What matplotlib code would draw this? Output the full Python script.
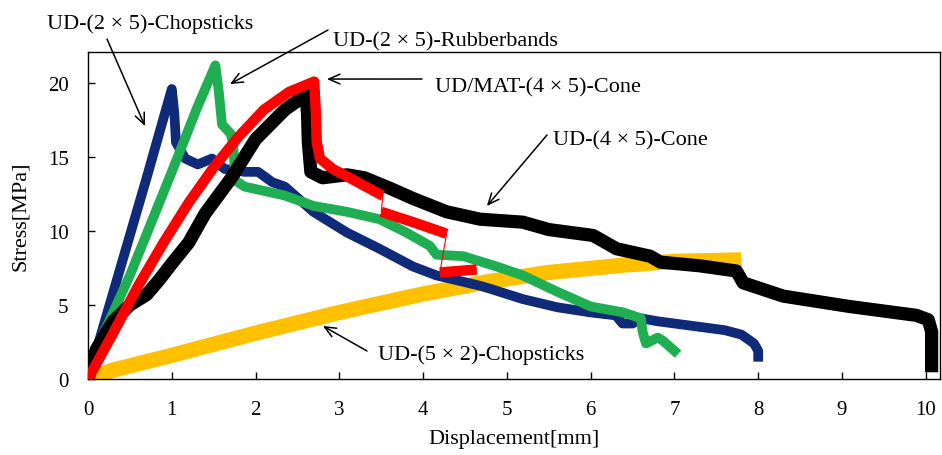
import matplotlib
matplotlib.use("Agg")
import matplotlib.pyplot as plt

plt.rcParams['font.family'] = ['Liberation Serif', 'DejaVu Serif']

# ---- data ----
yel_x = [0, 0.3, 1.0, 2.0, 3.0, 4.0, 4.8, 5.5, 6.4, 7.0, 7.8]
yel_y = [0, 0.6, 1.6, 3.1, 4.5, 5.75, 6.6, 7.2, 7.7, 7.95, 8.05]

navy_x = [0, 0.35, 0.7, 1.0, 1.03, 1.05, 1.16, 1.31, 1.48, 1.63, 1.87, 2.03, 2.2, 2.35,
          2.69, 3.09, 3.48, 3.88, 4.16, 4.68, 4.8, 5.19, 5.6, 6.0, 6.3, 6.38, 6.5, 6.6,
          6.8, 7.6, 7.8, 7.95, 8.0, 8.0]
navy_y = [0, 6.8, 13.6, 19.6, 18.0, 16.0, 14.9, 14.5, 14.9, 14.2, 14.0, 14.0, 13.3, 13.0,
          11.3, 9.9, 8.8, 7.6, 7.0, 6.3, 6.1, 5.4, 4.85, 4.5, 4.3, 3.75, 3.75, 4.1,
          3.9, 3.3, 3.0, 2.4, 1.9, 1.5]

green_x = [0, 0.1, 0.5, 1.0, 1.3, 1.52, 1.56, 1.6, 1.7, 1.73, 1.76, 1.87, 2.35, 2.69,
           3.09, 3.48, 3.8, 4.08, 4.16, 4.48, 4.88, 5.19, 5.6, 6.0, 6.39, 6.6, 6.62,
           6.66, 6.8, 6.86, 7.0]
green_y = [0, 2.0, 7.0, 14.0, 18.3, 21.2, 19.5, 17.2, 16.6, 16.0, 13.4, 13.0, 12.4, 11.7,
           11.3, 10.8, 9.9, 9.0, 8.4, 8.3, 7.6, 7.0, 5.9, 4.9, 4.5, 4.1, 3.2,
           2.4, 2.8, 2.6, 1.9]

black_x = [0, 0.1, 0.3, 0.5, 0.7, 0.85, 1.0, 1.2, 1.4, 1.7, 2.0, 2.35, 2.6, 2.62, 2.63,
           2.66, 2.8, 3.09, 3.3, 3.6, 3.88, 4.28, 4.68, 5.19, 5.5, 6.03, 6.31, 6.71, 6.83,
           7.3, 7.74, 7.82, 8.3, 9.09, 9.89, 10.03, 10.07, 10.07]
black_y = [0, 2.0, 3.9, 5.0, 5.7, 6.7, 7.8, 9.2, 11.2, 13.5, 16.2, 18.2, 19.2, 18.0, 16.0,
           14.0, 13.6, 13.8, 13.6, 12.9, 12.2, 11.3, 10.8, 10.6, 10.1, 9.7, 8.8, 8.3, 7.9,
           7.65, 7.3, 6.5, 5.6, 4.9, 4.3, 4.0, 3.2, 0.9]

red1_x = [0, 0.3, 0.6, 0.9, 1.2, 1.5, 1.8, 2.1, 2.4, 2.7, 2.72, 2.73, 2.77, 2.92, 3.09, 3.48, 3.52]
red1_y = [0, 3.1, 6.3, 9.2, 11.9, 14.3, 16.4, 18.2, 19.4, 20.1, 18.0, 16.0, 14.9, 14.2, 13.7, 12.5, 12.4]
red2_x = [3.5, 3.88, 4.24, 4.28]
red2_y = [11.3, 10.6, 9.9, 9.8]
red3_x = [4.2, 4.64]
red3_y = [7.2, 7.4]

labels = ["UD-(2 \u00d7 5)-Chopsticks", "UD-(2 \u00d7 5)-Rubberbands",
          "UD/MAT-(4 \u00d7 5)-Cone", "UD-(4 \u00d7 5)-Cone",
          "UD-(5 \u00d7 2)-Chopsticks"]
x_ticks = list(range(0, 11))
y_ticks = [0, 5, 10, 15, 20]

W, H = 942, 456
fig = plt.figure(figsize=(W / 100, H / 100), dpi=100)
ax = fig.add_axes([88 / W, 1 - 380 / H, (940 - 88) / W, (380 - 53) / H])

c_yel, c_navy, c_green, c_red = '#FFC000', '#0E2A78', '#1FAE52', '#FF0000'
ax.plot(yel_x, yel_y, color=c_yel, lw=11.0, solid_capstyle='butt', zorder=2)
ax.plot(navy_x, navy_y, color=c_navy, lw=7.0, solid_joinstyle='round', zorder=3)
ax.plot(green_x, green_y, color=c_green, lw=7.0, solid_joinstyle='round', zorder=4)
ax.plot(black_x, black_y, color='black', lw=9.5, solid_joinstyle='round', zorder=5)
ax.plot(red1_x + red2_x + red3_x, red1_y + red2_y + red3_y, color=c_red, lw=0.8, zorder=6)
for rx, ry in [(red1_x, red1_y), (red2_x, red2_y), (red3_x, red3_y)]:
    ax.plot(rx, ry, color=c_red, lw=7.5, solid_capstyle='butt', solid_joinstyle='round', zorder=6)

ax.set_xlim(0, 10.17)
ax.set_ylim(0, 22.1)
ax.set_xticks(x_ticks)
ax.set_yticks(y_ticks)
ax.tick_params(direction='in', length=5, width=1, labelsize=15, top=False, right=False)
ax.tick_params(axis='x', pad=15)
ax.tick_params(axis='y', pad=14)
for s in ax.spines.values():
    s.set_linewidth(1.0)
ax.set_xlabel("Displacement[mm]", fontsize=16, labelpad=7)
ax.set_ylabel("Stress[MPa]", fontsize=16, labelpad=13)


def px2data(px, py):
    return ((px - 88) / 83.8, (380 - py) / 14.8)


def fig_px(px, py):
    return (px, H - py)


arrows = [((107, 40), (145, 127)), ((328, 31), (230, 85)), ((422, 80), (327, 80)),
          ((547, 136), (487, 207)), ((367, 352), (323, 327))]
text_pos = [(47, 29), (333, 46), (435, 92), (553, 145), (378, 360)]

for (tail, tip), lab, tp in zip(arrows, labels, text_pos):
    ax.annotate('', xy=px2data(*tip), xycoords='data',
                xytext=fig_px(*tail), textcoords='figure pixels',
                arrowprops=dict(arrowstyle='->,head_length=0.8,head_width=0.35',
                                lw=1.1, color='black', shrinkA=0, shrinkB=0),
                annotation_clip=False, zorder=10)
    fig.text(tp[0] / W, 1 - tp[1] / H, lab, fontsize=16, ha='left', va='baseline')

fig.savefig("out.png", dpi=100)
